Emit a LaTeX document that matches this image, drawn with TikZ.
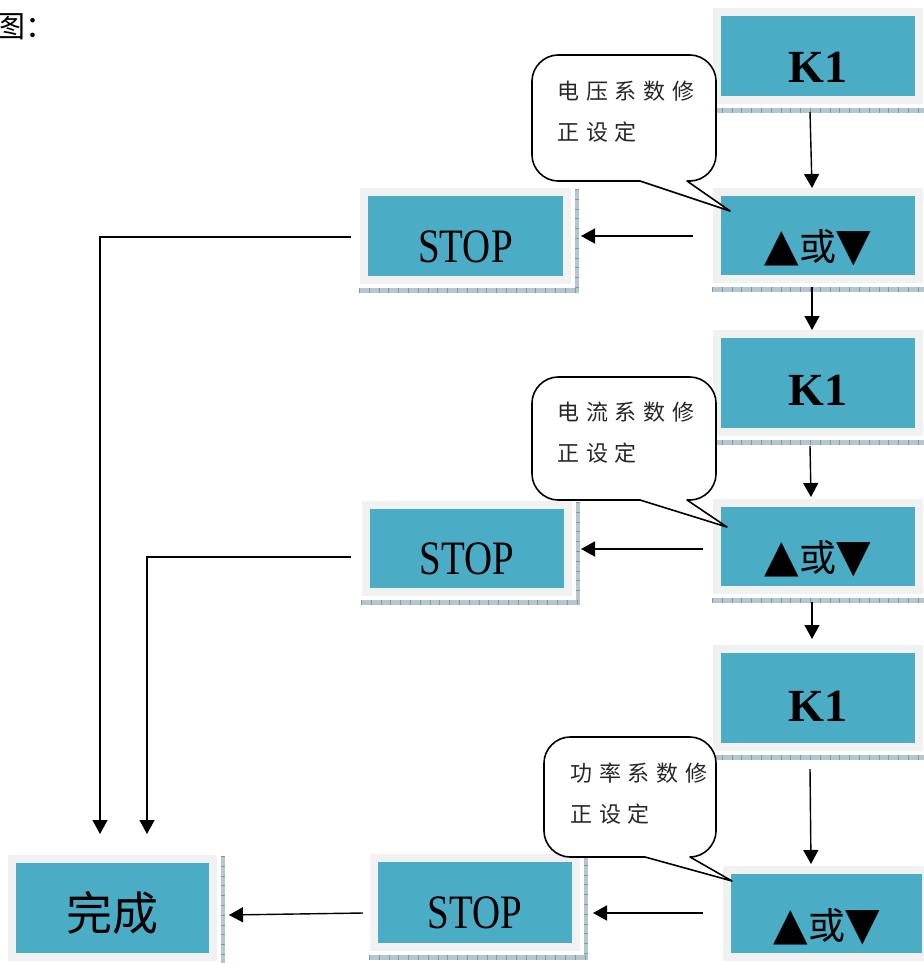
\documentclass[tikz,border=0pt]{standalone}
\usepackage{fontspec}
\setmainfont{Liberation Serif}
\newfontfamily\cjk{Noto Sans CJK SC}
\newfontfamily\cjkls[LetterSpace=31]{Noto Sans CJK SC}
\newfontfamily\stopfont[FakeStretch=0.81]{Liberation Serif}
\newfontfamily\symfont{DejaVu Sans}
\usetikzlibrary{calc,arrows.meta}
\definecolor{boxc}{HTML}{4BACC6}
\definecolor{framec}{HTML}{F1F1F1}
\definecolor{shadc}{HTML}{B4C6CE}
\definecolor{tickc}{HTML}{7F99A6}
\tikzset{
  panel/.style={fill=boxc, draw=framec, line width=8pt, inner sep=0pt},
  ktext/.style={font=\bfseries\fontsize{46pt}{46pt}\selectfont},
  stoptext/.style={font=\stopfont\fontsize{48pt}{48pt}\selectfont},
  udtext/.style={font=\fontsize{37pt}{37pt}\selectfont},
  donetext/.style={font=\cjk\fontsize{46pt}{46pt}\selectfont},
  calloutline/.style={draw=black, fill=white, line width=1.6pt, line join=round},
  callouttext/.style={font=\cjkls\fontsize{22pt}{41pt}\selectfont, text=black!85, align=left, inner sep=0pt, anchor=west},
  arr/.style={draw, line width=1.4pt, -{Triangle[length=14pt,width=15pt]}},
  link/.style={draw, line width=1.4pt}
}
\newcommand\panelshadow[1]{%
  \fill[shadc] ($(#1.south west)+(-1,4)$) rectangle ($(#1.south east)+(8,9)$);
  \fill[shadc] ($(#1.north east)+(4,1)$) rectangle ($(#1.south east)+(8,9)$);
  \draw[tickc, line width=5pt, dash pattern=on 0.8pt off 9pt] ($(#1.south west)+(-1,6.5)$) -- ($(#1.south east)+(8,6.5)$);
  \draw[tickc, line width=4pt, dash pattern=on 0.8pt off 9pt] ($(#1.north east)+(6,1)$) -- ($(#1.south east)+(6,4)$);
}
\newcommand\callout[8]{%
  \draw[calloutline] (#7,#8) -- (#5,#4) -- (#1+26,#4)
    .. controls (#1+12,#4) and (#1,#4-12) .. (#1,#4-26) -- (#1,#2+26)
    .. controls (#1,#2+12) and (#1+12,#2) .. (#1+26,#2) -- (#3-26,#2)
    .. controls (#3-12,#2) and (#3,#2+12) .. (#3,#2+26) -- (#3,#4-26)
    .. controls (#3,#4-12) and (#3-12,#4) .. (#3-26,#4) -- (#6,#4) -- cycle;
}
\newcommand\updown{{\symfont\fontsize{45pt}{45pt}\selectfont ▲}{\cjk 或}{\symfont\fontsize{45pt}{45pt}\selectfont ▼}}
\begin{document}
\begin{tikzpicture}[x=1pt, y=-1pt]
\useasboundingbox (0,0) rectangle (923,963);

% title text
\node[font=\cjk\fontsize{30pt}{30pt}\selectfont, anchor=west, inner sep=0pt] (title) at (-5,27) {图：};

% panels
\node[panel, minimum width=202pt, minimum height=88pt, label={[ktext, yshift=-11pt]center:K1}] (K1a) at (818,56) {};
\node[panel, minimum width=202pt, minimum height=87pt, label={[udtext, yshift=-12pt]center:\updown}] (UDa) at (818,235.5) {};
\node[panel, minimum width=203pt, minimum height=88pt, label={[stoptext, yshift=-11pt]center:STOP}] (STOP1) at (465.5,236) {};
\node[panel, minimum width=202pt, minimum height=98pt, label={[ktext, yshift=-7pt]center:K1}] (K1b) at (818,383) {};
\node[panel, minimum width=202pt, minimum height=87pt, label={[udtext, yshift=-12.5pt]center:\updown}] (UDb) at (818,546.5) {};
\node[panel, minimum width=202pt, minimum height=87pt, label={[stoptext, yshift=-10.5pt]center:STOP}] (STOP2) at (467,548.5) {};
\node[panel, minimum width=202pt, minimum height=98pt, label={[ktext, yshift=-8pt]center:K1}] (K1c) at (818,698) {};
\node[panel, minimum width=199pt, minimum height=87pt, label={[udtext, yshift=-13pt]center:\updown}] (UDc) at (826.5,913.5) {};
\node[panel, minimum width=202pt, minimum height=89pt, label={[stoptext, yshift=-10pt]center:STOP}] (STOP3) at (475,902.5) {};
\node[panel, minimum width=201pt, minimum height=98pt, label={[donetext, yshift=-5pt]center:完成}] (Done) at (112.5,908) {};

\foreach \n in {K1a,UDa,STOP1,K1b,UDb,STOP2,K1c,UDc,STOP3,Done} {\panelshadow{\n}}

% callouts
\callout{532}{55}{716}{181}{640}{687}{730}{211}
\callout{532}{377}{716}{500}{640}{687}{727}{527}
\callout{544}{737}{716}{857}{645}{690}{732}{881}
\node[callouttext] (c1) at (557,111.5) {电压系数修\\正设定};
\node[callouttext] (c2) at (557,432.5) {电流系数修\\正设定};
\node[callouttext] (c3) at (570,793.5) {功率系数修\\正设定};

% vertical arrows
\draw[arr] ($(K1a.south)+(-8,8)$) -- ($(UDa.north)+(-6,0)$);
\draw[arr] ($(UDa.south)+(-6,4)$) -- ($(K1b.north)+(-6,0)$);
\draw[arr] ($(K1b.south)+(-8,10)$) -- ($(UDb.north)+(-7,-2)$);
\draw[arr] ($(UDb.south)+(-6,8)$) -- ($(K1c.north)+(-6,-6)$);
\draw[arr] ($(K1c.south)+(-8,18)$) -- ($(UDc.north)+(-15.5,-2)$);

% horizontal arrows
\draw[arr] ($(UDa.west)+(-20,0.5)$) -- ($(STOP1.east)+(10,0)$);
\draw[arr] ($(UDb.west)+(-10,2.5)$) -- ($(STOP2.east)+(9,0.5)$);
\draw[arr] ($(UDc.west)+(-20,-0.5)$) -- ($(STOP3.east)+(13,10.5)$);
\draw[arr] ($(STOP3.west)+(-7,10.5)$) -- ($(Done.east)+(12,7)$);

% long return lines
\draw[arr] ($(STOP1.west)+(-9,1)$) -| ($(Done.north)+(-12.5,-21)$);
\draw[arr] ($(STOP2.west)+(-11,8.5)$) -| ($(Done.north)+(34.5,-21)$);
\end{tikzpicture}
\end{document}
